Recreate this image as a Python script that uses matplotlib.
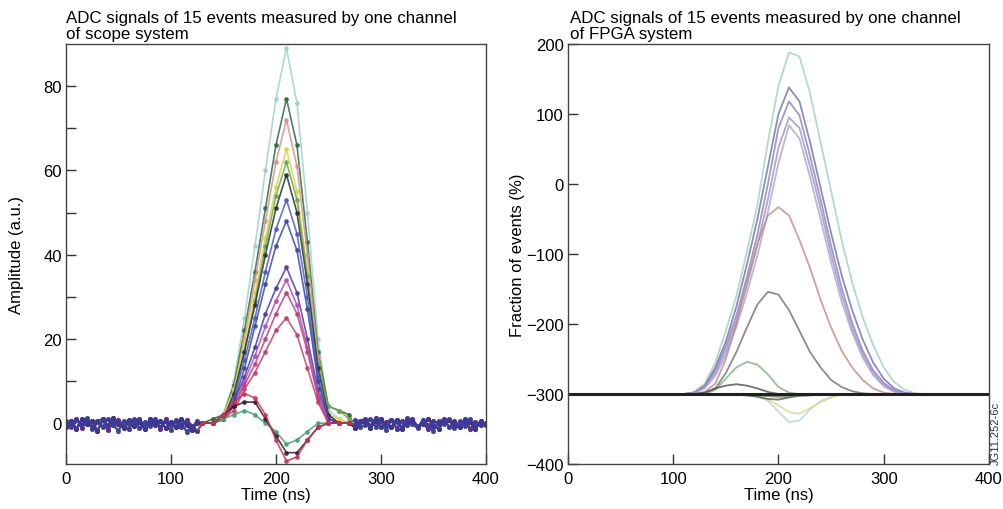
import matplotlib
matplotlib.use("Agg")
import matplotlib.pyplot as plt

plt.rcParams["font.family"] = ["Liberation Sans", "DejaVu Sans"]

# ---- scope system (left panel) ----
t_pre = [0, 5, 10, 15, 20, 25, 30, 35, 40, 45, 50, 55, 60, 65,
         70, 75, 80, 85, 90, 95, 100, 105, 110, 115, 120, 125]
t_pulse = [130, 140, 150, 160, 170, 180, 190, 200, 210, 220, 230, 240, 250, 260, 270]
t_post = [275, 280, 285, 290, 295, 300, 305, 310, 315, 320, 325, 330, 335, 340,
          345, 350, 355, 360, 365, 370, 375, 380, 385, 390, 395, 400]

noise_pre = [
    [0.5, -1.0, 0.8, -0.3, 1.2, -1.5, 0.2, -0.8, 1.0, -0.5, -1.8, 0.6, -0.2,
     0.9, -1.2, 0.3, -0.6, 1.1, -0.9, 0.4, -1.6, 0.7, -0.1, -2.0, -1.0, 0.5],
    [-0.8, 0.6, -1.4, 1.0, -0.2, 0.4, -1.9, 0.9, -0.6, 1.3, -0.3, -1.1, 0.8,
     -0.7, 0.2, -1.5, 1.0, -0.4, 0.6, -1.2, 0.3, -0.9, 1.1, -0.5, -1.7, 0.1],
    [0.2, -0.4, 1.1, -1.2, 0.7, -0.9, 0.4, 1.0, -1.6, 0.1, 0.8, -0.7, -1.3,
     0.5, 1.0, -0.8, -0.2, 0.6, -1.4, 0.9, -0.3, 0.4, -1.0, 0.7, -0.6, -1.9],
]
noise_post = [
    [-0.4, 0.6, 0.9, -0.6, 1.2, -1.0, 0.3, 0.8, -1.3, 0.5, -0.4, 1.0, -0.9,
     0.2, -1.5, 0.6, -0.2, 1.1, -1.0, 0.4, -0.7, 0.9, -1.4, 0.3, -0.5, 0.1],
    [0.7, -0.9, -0.5, 1.0, -0.8, 0.4, -1.6, 0.7, 0.2, -0.9, 1.2, -0.3, -1.1,
     0.8, -0.4, -1.8, 0.6, -0.2, 0.9, -1.2, 0.5, -0.6, 1.0, -0.9, 0.3, -0.2],
    [-1.1, 0.2, 0.3, -1.2, 0.6, 1.1, -0.5, -0.9, 0.8, -1.4, 0.2, 0.7, -0.8,
     -0.3, 1.0, -0.6, -1.3, 0.4, 0.8, -0.7, -1.0, 0.5, 0.2, -1.5, 0.6, -0.4],
]

scope_pulses = [
    [0, 1, 2, 10, 25, 42, 60, 77, 89, 76, 50, 20, 3, 1, 0],
    [0, 1, 2, 9, 22, 36, 51, 66, 77, 66, 43, 17, 4, 3, 2],
    [0, 0, 2, 8, 20, 34, 48, 62, 72, 61, 40, 16, 2, 0, 0],
    [0, 0, 2, 8, 19, 31, 44, 56, 65, 55, 36, 14, 2, 1, 0],
    [0, 0, 1, 7, 17, 29, 42, 54, 62, 53, 35, 14, 4, 3, 1],
    [0, 0, 1, 7, 17, 28, 40, 51, 59, 50, 33, 13, 2, 0, 0],
    [0, 0, 1, 6, 15, 25, 36, 46, 53, 45, 30, 11, 1, 0, 0],
    [0, 0, 1, 5, 13, 23, 33, 42, 48, 41, 27, 10, 1, 0, 0],
    [0, 0, 1, 5, 11, 18, 26, 32, 37, 31, 20, 8, 1, 0, 0],
    [0, 0, 1, 4, 10, 16, 23, 29, 34, 28, 18, 7, 0, 0, 0],
    [0, 0, 1, 4, 9, 14, 20, 26, 31, 26, 17, 6, 0, 0, 0],
    [0, 0, 1, 3, 8, 12, 17, 22, 25, 21, 13, 5, 0, 0, 0],
    [0, 0, 1, 2, 3, 2, 0, -2, -5, -4, -2, 0, 0, 0, 0],
    [0, 0, 2, 4, 5, 5, 1, -3, -7, -7, -4, -1, 0, 0, 0],
    [0, 0, 2, 5, 7, 6, 2, -4, -9, -8, -4, -1, 0, 0, 0],
]
scope_colors = ["#9fcfd0", "#2f6a40", "#d89090", "#d8d848", "#6aaa4a",
                "#303030", "#4a5ac8", "#3a48b0", "#4a3aa8", "#b050b8",
                "#c04080", "#c0406a", "#4aa070", "#302030", "#d03050"]

# ---- FPGA system (right panel) ----
t_fpga = [0, 110, 120, 130, 140, 150, 160, 170, 180, 190, 200, 210, 220,
          230, 240, 250, 260, 270, 280, 290, 300, 310, 320, 330, 340, 400]
fpga_pulses = [
    [-300, -300, -297, -285, -255, -210, -160, -97, -30, 60, 140, 188, 182,
     130, 60, -10, -80, -140, -190, -230, -262, -283, -294, -299, -300, -300],
    [-300, -300, -298, -288, -262, -225, -175, -115, -50, 25, 100, 138, 118,
     60, -5, -70, -130, -180, -222, -255, -278, -292, -298, -300, -300, -300],
    [-300, -300, -298, -289, -266, -232, -188, -133, -72, 0, 80, 118, 98,
     40, -22, -88, -148, -198, -238, -266, -284, -295, -299, -300, -300, -300],
    [-300, -300, -299, -290, -270, -238, -196, -145, -87, -22, 52, 95, 80,
     25, -35, -100, -158, -206, -243, -270, -287, -296, -300, -300, -300, -300],
    [-300, -300, -299, -292, -274, -244, -204, -156, -102, -40, 30, 84, 65,
     10, -50, -112, -168, -212, -248, -273, -289, -297, -300, -300, -300, -300],
    [-300, -300, -300, -297, -285, -250, -200, -140, -85, -45, -33, -45, -80,
     -120, -165, -205, -238, -262, -280, -292, -298, -300, -300, -300, -300, -300],
    [-300, -300, -300, -299, -292, -270, -240, -205, -172, -154, -158, -180, -210,
     -240, -262, -280, -290, -296, -299, -300, -300, -300, -300, -300, -300, -300],
    [-300, -300, -300, -300, -294, -278, -262, -254, -258, -272, -290, -298, -300,
     -300, -300, -300, -300, -300, -300, -300, -300, -300, -300, -300, -300, -300],
    [-300, -300, -300, -298, -292, -288, -286, -288, -292, -297, -300, -300, -300,
     -300, -300, -300, -300, -300, -300, -300, -300, -300, -300, -300, -300, -300],
    [-300, -300, -300, -300, -300, -300, -300, -300, -302, -310, -325, -340, -338,
     -322, -310, -304, -300, -300, -300, -300, -300, -300, -300, -300, -300, -300],
    [-300, -300, -300, -300, -300, -300, -300, -301, -303, -308, -316, -326, -328,
     -320, -312, -305, -301, -300, -300, -300, -300, -300, -300, -300, -300, -300],
    [-300, -300, -300, -300, -300, -300, -301, -302, -304, -307, -308, -305, -302,
     -301, -300, -300, -300, -300, -300, -300, -300, -300, -300, -300, -300, -300],
    [-300, -300, -300, -300, -300, -300, -300, -301, -302, -303, -304, -304, -303,
     -302, -301, -300, -300, -300, -300, -300, -300, -300, -300, -300, -300, -300],
    [-300, -300, -300, -300, -300, -300, -300, -300, -300, -300, -300, -300, -300,
     -300, -300, -300, -300, -300, -300, -300, -300, -300, -300, -300, -300, -300],
    [-300, -300, -300, -300, -300, -300, -300, -300, -300, -300, -300, -300, -300,
     -300, -300, -300, -300, -300, -300, -300, -300, -300, -300, -300, -300, -300],
]
fpga_colors = ["#9fd0c0", "#7070a8", "#8a80b8", "#9a90c8", "#b0a0d0",
               "#c08a80", "#707070", "#80b080", "#505050", "#b8d0d8",
               "#d8d890", "#505848", "#708070", "#303030", "#202020"]

title_l = "ADC signals of 15 events measured by one channel\nof scope system"
title_r = "ADC signals of 15 events measured by one channel\nof FPGA system"

fig = plt.figure(figsize=(10.04, 5.10), dpi=100)
ax_l = fig.add_axes([0.0657, 0.0882, 0.4183, 0.8235])
ax_r = fig.add_axes([0.5657, 0.0882, 0.4193, 0.8235])

for i, (pulse, col) in enumerate(zip(scope_pulses, scope_colors)):
    k = i % 3
    ts = t_pre + t_pulse + t_post
    ys = noise_pre[k] + pulse + noise_post[(k + 1) % 3]
    ax_l.plot(ts, ys, color=col, lw=1.2, marker="o", ms=2.4, alpha=0.85)
# dense bluish baseline band drawn on top
for k in range(3):
    ax_l.plot(t_pre, noise_pre[k], color="#3a3aa0", lw=1.8, marker="o", ms=2.2, alpha=0.75)
    ax_l.plot(t_post, noise_post[k], color="#3a3aa0", lw=1.8, marker="o", ms=2.2, alpha=0.75)

for pulse, col in zip(fpga_pulses, fpga_colors):
    ax_r.plot(t_fpga, pulse, color=col, lw=1.3, alpha=0.8)
ax_r.plot([0, 400], [-300, -300], color="#202020", lw=2.2)

for ax in (ax_l, ax_r):
    ax.set_xlim(0, 400)
    ax.set_xticks([0, 100, 200, 300, 400])
    ax.tick_params(direction="in", length=7, width=1, labelsize=12,
                   color="#333333", pad=3)
    ax.tick_params(axis="x", pad=5)
    ax.tick_params(axis="y", which="minor", direction="in", length=7, width=1,
                   color="#333333")
    for s in ax.spines.values():
        s.set_color("#444444")
        s.set_linewidth(1.0)
    ax.set_xlabel("Time (ns)", fontsize=12, labelpad=1)

ax_l.set_ylim(-9.7, 90)
ax_l.set_yticks([0, 20, 40, 60, 80])
ax_l.set_yticks([10, 30, 50, 70], minor=True)
ax_l.set_ylabel("Amplitude (a.u.)", fontsize=12, labelpad=14)
ax_l.text(0, 1.008, title_l, transform=ax_l.transAxes, ha="left", va="bottom",
          fontsize=12.2, linespacing=1.05)

ax_r.set_ylim(-400, 200)
ax_r.set_yticks([-400, -300, -200, -100, 0, 100, 200])
ax_r.set_yticklabels(["\u2212400", "\u2212300", "\u2212200", "\u2212100", "0", "100", "200"])
ax_r.set_ylabel("Fraction of events (%)", fontsize=12, labelpad=1)
ax_r.text(0.005, 1.008, title_r, transform=ax_r.transAxes, ha="left", va="bottom",
          fontsize=12.2, linespacing=1.05)

fig.text(0.992, 0.15, "JG11.252-6c", rotation=90, fontsize=8, ha="center",
         va="center", color="#333333")

fig.savefig("out.png", dpi=100)
